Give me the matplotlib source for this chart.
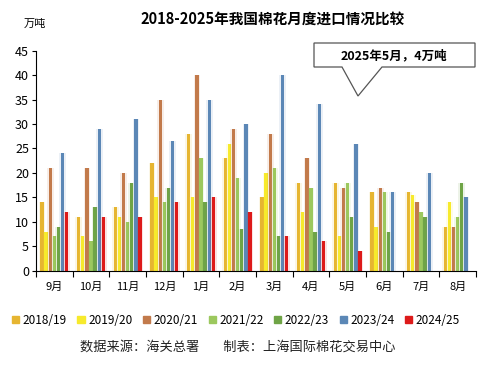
import matplotlib
matplotlib.use("Agg")
import matplotlib.pyplot as plt
import numpy as np
from matplotlib.patches import Polygon

plt.rcParams['font.family'] = ['Noto Sans CJK SC', 'DejaVu Sans']

# data (万吨)
months = ['9月', '10月', '11月', '12月', '1月', '2月', '3月', '4月', '5月', '6月', '7月', '8月']
seasons = ['2018/19', '2019/20', '2020/21', '2021/22', '2022/23', '2023/24', '2024/25']
v1819 = [14, 11, 13, 22, 28, 23, 15, 18, 18, 16, 16, 9]
v1920 = [8, 7, 11, 15, 15, 26, 20, 12, 7, 9, 15.5, 14]
v2021 = [21, 21, 20, 35, 40, 29, 28, 23, 17, 17, 14, 9]
v2122 = [7, 6, 10, 14, 23, 19, 21, 17, 18, 16, 12, 11]
v2223 = [9, 13, 18, 17, 14, 8.5, 7, 8, 11, 8, 11, 18]
v2324 = [24, 29, 31, 26.5, 35, 30, 40, 34, 26, 16, 20, 15]
v2425 = [12, 11, 11, 14, 15, 12, 7, 6, 4, np.nan, np.nan, np.nan]
series = [v1819, v1920, v2021, v2122, v2223, v2324, v2425]
colors = ['#E6B531', '#F7EA2C', '#C27A4B', '#9CC85E', '#6FA446', '#5B87B6', '#DD1A1A']

fig = plt.figure(figsize=(4.92, 3.79), dpi=100)
ax = fig.add_axes([36 / 492, 1 - 270.7 / 379, 440 / 492, 220 / 379])

x = np.arange(len(months))
step = 0.112
width = 0.09
for i, (vals, c) in enumerate(zip(series, colors)):
    off = (i - 3) * step
    # soft glow behind each bar
    ax.bar(x + off, vals, width * 2.0, color=c, alpha=0.12, linewidth=0)
    ax.bar(x + off, vals, width, color=c, linewidth=0, label=seasons[i])

ax.set_xlim(-0.5, len(months) - 0.5)
ax.set_ylim(0, 45)
ax.set_yticks(range(0, 46, 5))
ax.tick_params(axis='y', labelsize=9, length=3, width=0.8, pad=2)
ax.set_xticks(np.arange(-0.5, len(months), 1))
ax.set_xticklabels([])
ax.set_xticks(x, minor=True)
ax.set_xticklabels(months, minor=True, fontsize=8)
ax.tick_params(axis='x', which='major', length=4, width=0.8)
ax.tick_params(axis='x', which='minor', length=0, pad=8)
for s in ['top', 'right']:
    ax.spines[s].set_visible(False)
ax.spines['left'].set_linewidth(0.8)
ax.spines['bottom'].set_linewidth(0.8)

# legend
handles = [plt.Rectangle((0, 0), 1, 1, color=c) for c in colors]
fig.legend(handles, seasons, loc='center', bbox_to_anchor=(236 / 492, 1 - 320 / 379),
           ncol=7, frameon=False, fontsize=8.5, handlelength=0.6, handleheight=0.6,
           handletextpad=0.3, columnspacing=0.9)

# texts
fig.text(273 / 492, 1 - 20 / 379, '2018-2025年我国棉花月度进口情况比较',
         ha='center', va='center', fontsize=10.5, fontweight='bold')
fig.text(35 / 492, 1 - 24 / 379, '万吨', ha='center', va='center', fontsize=8)
fig.text(238 / 492, 1 - 347 / 379, '数据来源：海关总署        制表：上海国际棉花交易中心',
         ha='center', va='center', fontsize=9.5, color='#222222')

# callout box
pts = [(314, 43), (475, 43), (475, 67), (382, 67), (358, 96), (342, 67), (314, 67)]
pts = [(px / 492, 1 - py / 379) for px, py in pts]
fig.patches.append(Polygon(pts, closed=True, facecolor='white', edgecolor='#555555',
                           linewidth=0.9, transform=fig.transFigure))
fig.text(394 / 492, 1 - 56 / 379, '2025年5月，4万吨', ha='center', va='center',
         fontsize=9, fontweight='bold')

fig.savefig('out.png', dpi=100)
